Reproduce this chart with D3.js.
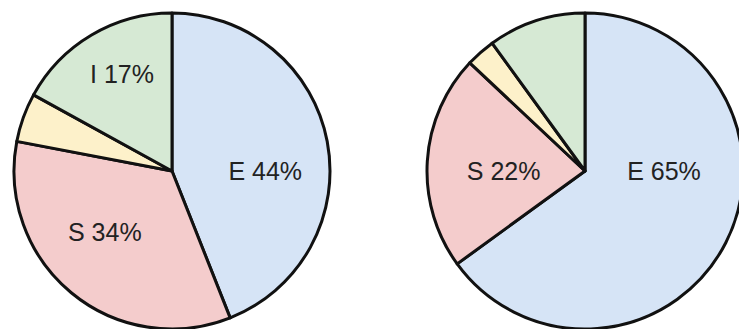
<!DOCTYPE html>
<html>
<head>
<meta charset="utf-8">
<script src="https://cdn.jsdelivr.net/npm/d3@7"></script>
<style>
  html, body { margin: 0; padding: 0; background: #fff; }
  svg { display: block; }
</style>
</head>
<body>
<svg id="chart" width="739" height="329"></svg>
<script>
// Slice categories, in clockwise order from 12 o'clock
const categories = ["E", "S", "Other", "I"];
// Percent share of each category, one array per pie
const leftValues = [44, 34, 5, 17];
const rightValues = [65, 22, 3, 10];
// Slices below this share carry no label
const labelThreshold = 15;

const colors = d3.scaleOrdinal()
  .domain(categories)
  .range(["#d6e4f6", "#f4cccc", "#fdf1ca", "#d6e9d4"]);

const svg = d3.select("#chart");
const R = 158;

// Label anchor per category for each pie: angle (degrees clockwise from top) and radius fraction
const leftAnchors = { E: [90, 0.59], S: [227.7, 0.575], I: [332.7, 0.69] };
const rightAnchors = { E: [90, 0.50], S: [270, 0.515] };

const pie = d3.pie().sort(null).value(d => d.value);
const arc = d3.arc().innerRadius(0).outerRadius(R);

function drawPie(values, cx, cy, anchors) {
  const data = categories.map((c, i) => ({ category: c, value: values[i] }));
  const g = svg.append("g").attr("transform", `translate(${cx},${cy})`);
  const arcs = pie(data);

  g.selectAll("path.slice")
    .data(arcs)
    .join("path")
    .attr("class", "slice")
    .attr("d", arc)
    .attr("fill", d => colors(d.data.category))
    .attr("stroke", "#111")
    .attr("stroke-width", 3)
    .attr("stroke-linejoin", "round");

  g.selectAll("text.label")
    .data(arcs.filter(d => d.data.value >= labelThreshold))
    .join("text")
    .attr("class", "label")
    .attr("transform", d => {
      const a = anchors[d.data.category];
      const p = a
        ? d3.pointRadial(a[0] * Math.PI / 180, a[1] * R)
        : arc.centroid(d);
      return `translate(${p[0]},${p[1]})`;
    })
    .attr("text-anchor", "middle")
    .attr("dy", "0.35em")
    .attr("font-family", "Arial, 'Liberation Sans', sans-serif")
    .attr("font-size", 25)
    .attr("fill", "#222")
    .text(d => `${d.data.category} ${d.data.value}%`);
}

drawPie(leftValues, 172, 171, leftAnchors);
drawPie(rightValues, 585, 171, rightAnchors);
</script>
</body>
</html>
